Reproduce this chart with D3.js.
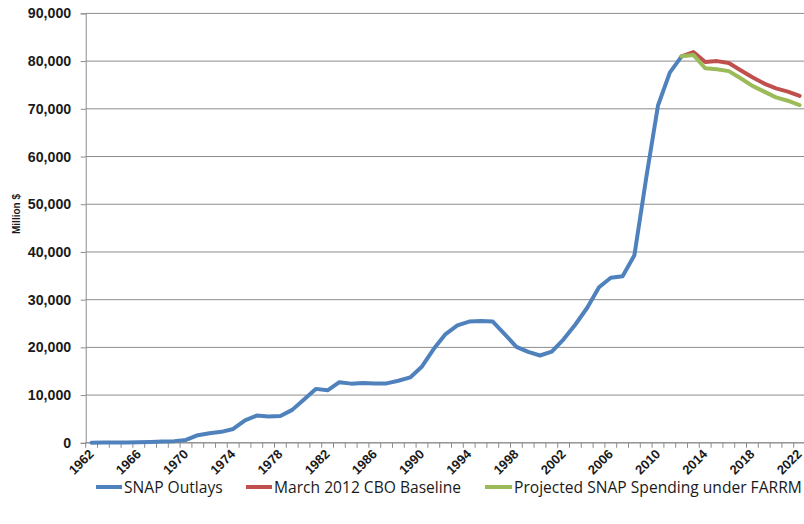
<!DOCTYPE html>
<html>
<head>
<meta charset="utf-8">
<script src="https://cdn.jsdelivr.net/npm/d3@7/dist/d3.min.js"></script>
<style>
  html, body { margin: 0; padding: 0; background: #fff; }
  svg { display: block; }
</style>
</head>
<body>
<svg id="chart" width="804" height="524"></svg>
<script>
const years = d3.range(1962, 2023);
const snapOutlays = [30, 40, 50, 60, 100, 150, 250, 350, 600, 1600,
  2000, 2300, 2900, 4700, 5700, 5500, 5600, 6900, 9100, 11300,
  11000, 12700, 12400, 12550, 12450, 12450, 13000, 13700, 16000, 19700,
  22800, 24600, 25400, 25550, 25400, 22800, 20100, 19050, 18300, 19100,
  21700, 24800, 28300, 32600, 34600, 34900, 39300, 55500, 70700, 77600,
  81000];
const projYears = d3.range(2012, 2023);
const cboBaseline = [81000, 81900, 79800, 80000, 79600, 78100, 76600, 75300, 74300, 73600, 72700];
const farrm = [81000, 81300, 78500, 78300, 77900, 76400, 74800, 73600, 72400, 71700, 70800];
const yTicks = [0, 10000, 20000, 30000, 40000, 50000, 60000, 70000, 80000, 90000];
const xLabelYears = d3.range(1962, 2023, 4);
const seriesNames = ["SNAP Outlays", "March 2012 CBO Baseline", "Projected SNAP Spending under FARRM"];
const colors = ["#4F81BD", "#C0504D", "#9BBB59"];

const svg = d3.select("#chart");
const pLeft = 85.7, pRight = 805.5, pTop = 13.4, pBottom = 442.8;

const x = d3.scaleBand().domain(years).range([pLeft, pRight]).padding(0);
const y = d3.scaleLinear().domain([0, 90000]).range([pBottom, pTop]);
const cx = d => x(d) + x.bandwidth() / 2;

// gridlines
svg.append("g").selectAll("line").data(yTicks).join("line")
  .attr("x1", pLeft).attr("x2", pRight)
  .attr("y1", d => y(d)).attr("y2", d => y(d))
  .attr("stroke", "#8c8c8c").attr("stroke-width", 1);

// y axis
const yAxis = d3.axisLeft(y).tickValues(yTicks).tickSize(5).tickPadding(9.5)
  .tickFormat(d3.format(","));
const ya = svg.append("g").attr("transform", `translate(${pLeft},0)`).call(yAxis);
ya.select(".domain").attr("stroke", "#8c8c8c");
ya.selectAll(".tick line").attr("stroke", "#8c8c8c");
ya.selectAll("text").attr("font-family", "Liberation Sans, Arial, sans-serif")
  .attr("font-weight", "bold").attr("font-size", 14.2).attr("fill", "#1a1a1a");

// x axis baseline & ticks at category boundaries
svg.append("line").attr("x1", pLeft).attr("x2", pRight)
  .attr("y1", pBottom).attr("y2", pBottom).attr("stroke", "#8c8c8c");
const boundaries = years.map(d => x(d)).concat([pRight]);
svg.append("g").selectAll("line").data(boundaries).join("line")
  .attr("x1", d => d).attr("x2", d => d)
  .attr("y1", pBottom).attr("y2", pBottom + 5)
  .attr("stroke", "#8c8c8c");

// x labels
svg.append("g").selectAll("text").data(xLabelYears).join("text")
  .attr("transform", d => `translate(${cx(d) + 3},${pBottom + 12}) rotate(-45)`)
  .attr("text-anchor", "end")
  .attr("font-family", "Liberation Sans, Arial, sans-serif")
  .attr("font-weight", "bold").attr("font-size", 13).attr("fill", "#1a1a1a")
  .text(d => d);

// y title
svg.append("text")
  .attr("transform", `translate(20,214) rotate(-90)`)
  .attr("text-anchor", "middle")
  .attr("font-family", "Liberation Sans, Arial, sans-serif")
  .attr("font-weight", "bold").attr("font-size", 10).attr("fill", "#1a1a1a")
  .text("Million $");

// lines
const line = d3.line().x(d => cx(d[0])).y(d => y(d[1]));
const series = [
  years.slice(0, snapOutlays.length).map((yr, i) => [yr, snapOutlays[i]]),
  projYears.map((yr, i) => [yr, cboBaseline[i]]),
  projYears.map((yr, i) => [yr, farrm[i]])
];
series.forEach((s, i) => {
  svg.append("path").datum(s)
    .attr("d", line).attr("fill", "none")
    .attr("stroke", colors[i]).attr("stroke-width", 4)
    .attr("stroke-linejoin", "round").attr("stroke-linecap", "round");
});

// legend
const legendItems = [
  { x1: 96, x2: 122, tx: 124 },
  { x1: 246, x2: 272, tx: 274 },
  { x1: 485, x2: 512, tx: 514 }
];
const lg = svg.append("g");
legendItems.forEach((it, i) => {
  lg.append("line").attr("x1", it.x1).attr("x2", it.x2)
    .attr("y1", 487).attr("y2", 487)
    .attr("stroke", colors[i]).attr("stroke-width", 4);
  lg.append("text").attr("x", it.tx).attr("y", 493)
    .attr("font-family", "Open Sans, Liberation Sans, sans-serif")
    .attr("font-size", 15.6).attr("fill", "#1a1a1a")
    .text(seriesNames[i]);
});
</script>
</body>
</html>
